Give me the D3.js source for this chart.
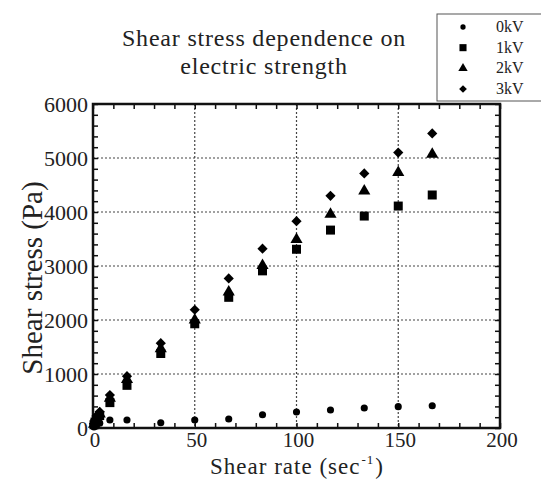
<!DOCTYPE html>
<html>
<head>
<meta charset="utf-8">
<script src="https://cdn.jsdelivr.net/npm/d3@7"></script>
<style>
  body { margin: 0; background: #fff; }
  text { font-family: "Liberation Serif", "DejaVu Serif", serif; fill: #222; }
</style>
</head>
<body>
<svg id="chart" width="541" height="480"></svg>
<script>
// shear rate (sec^-1) and stress (Pa) for each field strength
const shearRate = [0.5, 1, 1.7, 3.3, 8.3, 16.7, 33.3, 50, 66.7, 83.3, 100, 116.7, 133.3, 150, 166.7];
const stress0kV = [20, 40, 60, 90, 148, 148, 98, 148, 167, 246, 296, 333, 370, 395, 413];
const stress1kV = [60, 110, 160, 230, 470, 790, 1380, 1930, 2420, 2910, 3310, 3665, 3925, 4110, 4315];
const stress2kV = [70, 130, 190, 260, 550, 900, 1470, 2000, 2520, 3010, 3490, 3960, 4390, 4730, 5070];
const stress3kV = [80, 150, 220, 300, 610, 960, 1570, 2190, 2770, 3320, 3830, 4300, 4715, 5100, 5455];
const seriesNames = ["0kV", "1kV", "2kV", "3kV"];
const xTicks = [0, 50, 100, 150, 200];
const yTicks = [0, 1000, 2000, 3000, 4000, 5000, 6000];

const series = [stress0kV, stress1kV, stress2kV, stress3kV];

const svg = d3.select("#chart");
const mLeft = 93, mRight = 500, mTop = 104, mBottom = 428;

const x = d3.scaleLinear().domain([0, 200]).range([mLeft, mRight]);
const y = d3.scaleLinear().domain([0, 6000]).range([mBottom, mTop]);

// symbols, one per series (diamond = rotated square)
const symbols = [
  d3.symbol().type(d3.symbolCircle).size(40),
  d3.symbol().type(d3.symbolSquare).size(81),
  d3.symbol().type(d3.symbolTriangle).size(64),
  d3.symbol().type(d3.symbolSquare).size(52)
];
const rot = [0, 0, 0, 45];

// dotted grid
const grid = svg.append("g");
grid.selectAll("line.gx")
  .data(xTicks.slice(1, -1))
  .enter().append("line")
    .attr("x1", d => x(d)).attr("x2", d => x(d))
    .attr("y1", mTop).attr("y2", mBottom)
    .style("stroke", "#444").style("stroke-width", 1.2)
    .style("stroke-dasharray", "2,2");
grid.selectAll("line.gy")
  .data(yTicks.slice(1, -1))
  .enter().append("line")
    .attr("x1", mLeft).attr("x2", mRight)
    .attr("y1", d => y(d)).attr("y2", d => y(d))
    .style("stroke", "#444").style("stroke-width", 1.2)
    .style("stroke-dasharray", "2,2");

// axes with inward ticks on all four sides
const xMinor = d3.range(0, 201, 10);
const yMinor = d3.range(0, 6001, 200);

svg.append("g").attr("transform", `translate(0,${mBottom})`)
  .call(d3.axisTop(x).tickValues(xMinor).tickSize(5).tickFormat(""));
svg.append("g").attr("transform", `translate(0,${mTop})`)
  .call(d3.axisBottom(x).tickValues(xMinor).tickSize(5).tickFormat(""));
svg.append("g").attr("transform", `translate(${mLeft},0)`)
  .call(d3.axisRight(y).tickValues(yMinor).tickSize(5).tickFormat(""));
svg.append("g").attr("transform", `translate(${mRight},0)`)
  .call(d3.axisLeft(y).tickValues(yMinor).tickSize(5).tickFormat(""));

svg.selectAll(".domain").remove();
svg.selectAll(".tick line").style("stroke", "#111").style("stroke-width", 1.5);

// frame
svg.append("rect")
  .attr("x", mLeft).attr("y", mTop)
  .attr("width", mRight - mLeft).attr("height", mBottom - mTop)
  .style("fill", "none").style("stroke", "#111").style("stroke-width", 2.5);

// tick labels
svg.append("g").selectAll("text")
  .data(xTicks)
  .enter().append("text")
    .attr("x", d => x(d) + 2).attr("y", mBottom + 19)
    .attr("text-anchor", "middle")
    .style("font-size", "21px")
    .text(d => d);
svg.append("g").selectAll("text")
  .data(yTicks)
  .enter().append("text")
    .attr("x", mLeft - 5).attr("y", d => y(d) + 8)
    .attr("text-anchor", "end")
    .style("font-size", "22px")
    .text(d => d);

// points
series.forEach((vals, i) => {
  svg.append("g").selectAll("path")
    .data(shearRate.map((s, j) => [s, vals[j]]))
    .enter().append("path")
      .attr("d", symbols[i])
      .attr("transform", d => `translate(${x(d[0])},${y(d[1])}) rotate(${rot[i]})`)
      .style("fill", "#000");
});

// title
svg.append("text")
  .attr("x", 264).attr("y", 46)
  .attr("text-anchor", "middle")
  .style("font-size", "24px").style("letter-spacing", "0.8px")
  .text("Shear stress dependence on");
svg.append("text")
  .attr("x", 264).attr("y", 74)
  .attr("text-anchor", "middle")
  .style("font-size", "24px").style("letter-spacing", "0.8px")
  .text("electric strength");

// axis titles
svg.append("text")
  .attr("transform", "translate(42,278) rotate(-90)")
  .attr("text-anchor", "middle")
  .style("font-size", "29px")
  .text("Shear stress (Pa)");

const xl = svg.append("text")
  .attr("x", 297).attr("y", 474)
  .attr("text-anchor", "middle")
  .style("font-size", "23px").style("letter-spacing", "1px");
xl.append("tspan").text("Shear rate (sec");
xl.append("tspan").attr("dy", -10).attr("dx", 1).style("font-size", "13px").text("-1");
xl.append("tspan").attr("dy", 10).attr("dx", 1).text(")");

// legend
const lg = svg.append("g");
lg.append("rect")
  .attr("x", 437).attr("y", 14)
  .attr("width", 110).attr("height", 87)
  .style("fill", "#fff").style("stroke", "#555").style("stroke-width", 1);
const legendSymbols = [
  d3.symbol().type(d3.symbolCircle).size(22),
  d3.symbol().type(d3.symbolSquare).size(50),
  d3.symbol().type(d3.symbolTriangle).size(38),
  d3.symbol().type(d3.symbolSquare).size(30)
];
const ly = d3.scalePoint().domain(seriesNames).range([27, 89]);
seriesNames.forEach((n, i) => {
  lg.append("path")
    .attr("d", legendSymbols[i])
    .attr("transform", `translate(463,${ly(n)}) rotate(${rot[i]})`)
    .style("fill", "#000");
  lg.append("text")
    .attr("x", 496).attr("y", ly(n) + 5)
    .style("font-size", "16px")
    .text(n);
});
</script>
</body>
</html>
